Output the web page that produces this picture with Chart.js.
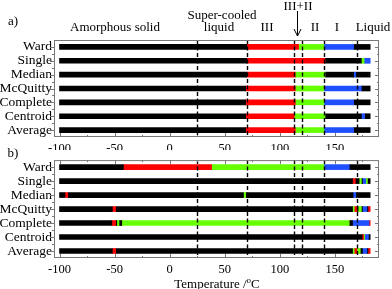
<!DOCTYPE html>
<html>
<head>
<meta charset="utf-8">
<script src="https://cdn.jsdelivr.net/npm/chart.js@4/dist/chart.umd.min.js"></script>
<style>
  body { margin: 0; background: #fff; }
  #wrap { position: relative; width: 392px; height: 289px; overflow: hidden;
          font-family: "Liberation Serif", serif; font-size: 13px; color: #000; }
  canvas { position: absolute; left: 0; }
  .lbl { position: absolute; transform: translate(-50%, -50%); white-space: nowrap; line-height: 1; }
  sup { font-size: 9px; vertical-align: 5px; line-height: 0; }
</style>
</head>
<body>
<div id="wrap">
  <canvas id="chartA" width="392" height="150" style="top:0;width:392px;height:150px"></canvas>
  <canvas id="chartB" width="392" height="139" style="top:150px;width:392px;height:139px"></canvas>

  <div class="lbl" style="left:13px;top:20px">a)</div>
  <div class="lbl" style="left:115px;top:26px">Amorphous solid</div>
  <div class="lbl" style="left:222px;top:14px">Super-cooled</div>
  <div class="lbl" style="left:219px;top:26px">liquid</div>
  <div class="lbl" style="left:267px;top:26px">III</div>
  <div class="lbl" style="left:298px;top:5px">III+II</div>
  <div class="lbl" style="left:315px;top:26px">II</div>
  <div class="lbl" style="left:337px;top:26px">I</div>
  <div class="lbl" style="left:373px;top:26px">Liquid</div>
  <div class="lbl" style="left:13px;top:152px">b)</div>
  <div class="lbl" style="left:217px;top:283px">Temperature /<sup>o</sup>C</div>
</div>

<script>
var methods = ['Ward', 'Single', 'Median', 'McQuitty', 'Complete', 'Centroid', 'Average'];
var xTicks = [-100, -50, 0, 50, 100, 150];
var xMinor = [-75, -25, 25, 75, 125, 175];
var transitions = [25, 70, 113, 120, 140, 170];

// phase codes: 0 = none, 1 = form I, 2 = form II, 3 = form III
// panel a : segment edges (degC) and the phase of every segment
var wardA = [-100, 70, 117, 140, 167, 182];
var wardAPhase = [0, 3, 2, 1, 0];
var singleA = [-100, 70, 141, 174, 176.5, 182];
var singleAPhase = [0, 3, 0, 2, 1];
var medianA = [-100, 70, 114, 141, 167, 169, 182];
var medianAPhase = [0, 3, 2, 0, 1, 0];
var mcquittyA = [-100, 69, 114, 140, 174, 182];
var mcquittyAPhase = [0, 3, 2, 1, 0];
var completeA = [-100, 69, 114, 140, 167, 182];
var completeAPhase = [0, 3, 2, 1, 0];
var centroidA = [-100, 69, 113, 141, 174, 177, 182];
var centroidAPhase = [0, 3, 2, 0, 1, 0];
var averageA = [-100, 69, 114, 140, 167, 182];
var averageAPhase = [0, 3, 2, 1, 0];

// panel b
var wardB = [-100, -42, 38, 140, 163, 182];
var wardBPhase = [0, 3, 2, 1, 0];
var singleB = [-100, 166, 168.5, 172, 174, 175, 178, 179.5, 182];
var singleBPhase = [0, 3, 0, 2, 0, 1, 2, 0];
var medianB = [-100, -95, -92.5, 67, 69, 166.5, 169, 182];
var medianBPhase = [0, 3, 0, 2, 0, 1, 0];
var mcquittyB = [-100, -52, -49, 166, 167.5, 170, 171, 174, 175, 179, 180, 182];
var mcquittyBPhase = [0, 3, 0, 2, 3, 0, 2, 0, 1, 0, 3];
var completeB = [-100, -52.5, -49, -48, -46, -43.5, 163, 166, 181, 182];
var completeBPhase = [0, 3, 0, 2, 0, 2, 0, 1, 3];
var centroidB = [-100, 174.7, 176, 177, 180.4, 182];
var centroidBPhase = [0, 3, 2, 1, 0];
var averageB = [-100, -52, -49, 166, 167.5, 170, 173, 175, 179, 180, 182];
var averageBPhase = [0, 3, 0, 2, 3, 2, 0, 1, 0, 3];

var phaseColors = ['#000000', '#1f4fff', '#66ff00', '#ff0000'];

function makeDatasets(edges, phases) {
  var n = 0;
  phases.forEach(function(p) { n = Math.max(n, p.length); });
  var sets = [];
  for (var j = 0; j < n; j++) {
    var data = [], colors = [];
    for (var i = 0; i < edges.length; i++) {
      if (j < phases[i].length) {
        data.push([edges[i][j], edges[i][j + 1]]);
        colors.push(phaseColors[phases[i][j]]);
      } else {
        data.push(null);
        colors.push('#000');
      }
    }
    sets.push({ data: data, backgroundColor: colors, borderWidth: 0,
                barThickness: 5, grouped: false });
  }
  return sets;
}

// box, tick marks, dashed transition lines, arrow
var framePlugin = {
  id: 'frame',
  afterDatasetsDraw: function(chart, args, opts) {
    var ctx = chart.ctx, a = chart.chartArea;
    var xs = chart.scales.x, ys = chart.scales.y;
    ctx.save();

    ctx.strokeStyle = '#000';
    ctx.lineWidth = 1.4;
    ctx.setLineDash([4, 2.5]);
    transitions.forEach(function(t) {
      var px = Math.round(xs.getPixelForValue(t)) + 0.5;
      ctx.beginPath(); ctx.moveTo(px, a.top); ctx.lineTo(px, a.bottom); ctx.stroke();
    });
    ctx.setLineDash([]);

    ctx.strokeStyle = '#777';
    ctx.lineWidth = 1;
    ctx.strokeRect(a.left + 0.5, a.top + 0.5, a.right - a.left - 1, a.bottom - a.top - 1);

    ctx.beginPath();
    function xTick(v, len) {
      var px = Math.round(xs.getPixelForValue(v)) + 0.5;
      ctx.moveTo(px, a.bottom); ctx.lineTo(px, a.bottom - len);
      if (opts.topTicks) { ctx.moveTo(px, a.top); ctx.lineTo(px, a.top + len); }
    }
    xTicks.forEach(function(v) { xTick(v, 4); });
    xMinor.forEach(function(v) { xTick(v, 2); });

    function yTick(py, len) {
      py = Math.round(py) + 0.5;
      ctx.moveTo(a.left, py); ctx.lineTo(a.left - len, py);
      ctx.moveTo(a.right, py); ctx.lineTo(a.right - len, py);
    }
    for (var i = 0; i < methods.length; i++) {
      var py = ys.getPixelForValue(i);
      yTick(py, 4);
      if (i < methods.length - 1) yTick((py + ys.getPixelForValue(i + 1)) / 2, 2);
    }
    ctx.stroke();

    if (opts.arrowAt !== undefined) {
      var ax = Math.round(xs.getPixelForValue(opts.arrowAt)) + 0.5;
      ctx.strokeStyle = '#000';
      ctx.lineWidth = 1;
      ctx.beginPath();
      ctx.moveTo(ax, 11); ctx.lineTo(ax, 36);
      ctx.moveTo(ax - 3.5, 29); ctx.lineTo(ax, 36); ctx.lineTo(ax + 3.5, 29);
      ctx.stroke();
    }
    ctx.restore();
  }
};

function makeChart(id, datasets, padTop, xHeight, showXLabels, frameOpts) {
  var font = { family: 'Liberation Serif', size: 13.5 };
  return new Chart(document.getElementById(id), {
    type: 'bar',
    data: { labels: methods, datasets: datasets },
    options: {
      indexAxis: 'y',
      responsive: false,
      animation: false,
      layout: { padding: { top: padTop, right: 13, left: 0, bottom: 0 } },
      plugins: { legend: { display: false }, tooltip: { enabled: false }, frame: frameOpts },
      scales: {
        x: {
          type: 'linear', min: -105, max: 190,
          grid: { display: false, drawTicks: false }, border: { display: false },
          afterBuildTicks: function(s) { s.ticks = xTicks.map(function(v) { return { value: v }; }); },
          afterFit: function(s) { s.height = xHeight; },
          ticks: { display: showXLabels, color: '#000', font: { family: 'Liberation Serif', size: 12.5 },
                   padding: 4, maxRotation: 0, autoSkip: false }
        },
        y: {
          grid: { display: false, drawTicks: false }, border: { display: false },
          afterFit: function(s) { s.width = 54; },
          ticks: { color: '#000', font: font, padding: 2, autoSkip: false }
        }
      }
    },
    plugins: [framePlugin]
  });
}

var chartA = makeChart('chartA',
  makeDatasets([wardA, singleA, medianA, mcquittyA, completeA, centroidA, averageA],
               [wardAPhase, singleAPhase, medianAPhase, mcquittyAPhase, completeAPhase, centroidAPhase, averageAPhase]),
  40, 13, true, { topTicks: false, arrowAt: 115.5 });

var chartB = makeChart('chartB',
  makeDatasets([wardB, singleB, medianB, mcquittyB, completeB, centroidB, averageB],
               [wardBPhase, singleBPhase, medianBPhase, mcquittyBPhase, completeBPhase, centroidBPhase, averageBPhase]),
  6, 31, true, { topTicks: true });
</script>
</body>
</html>
